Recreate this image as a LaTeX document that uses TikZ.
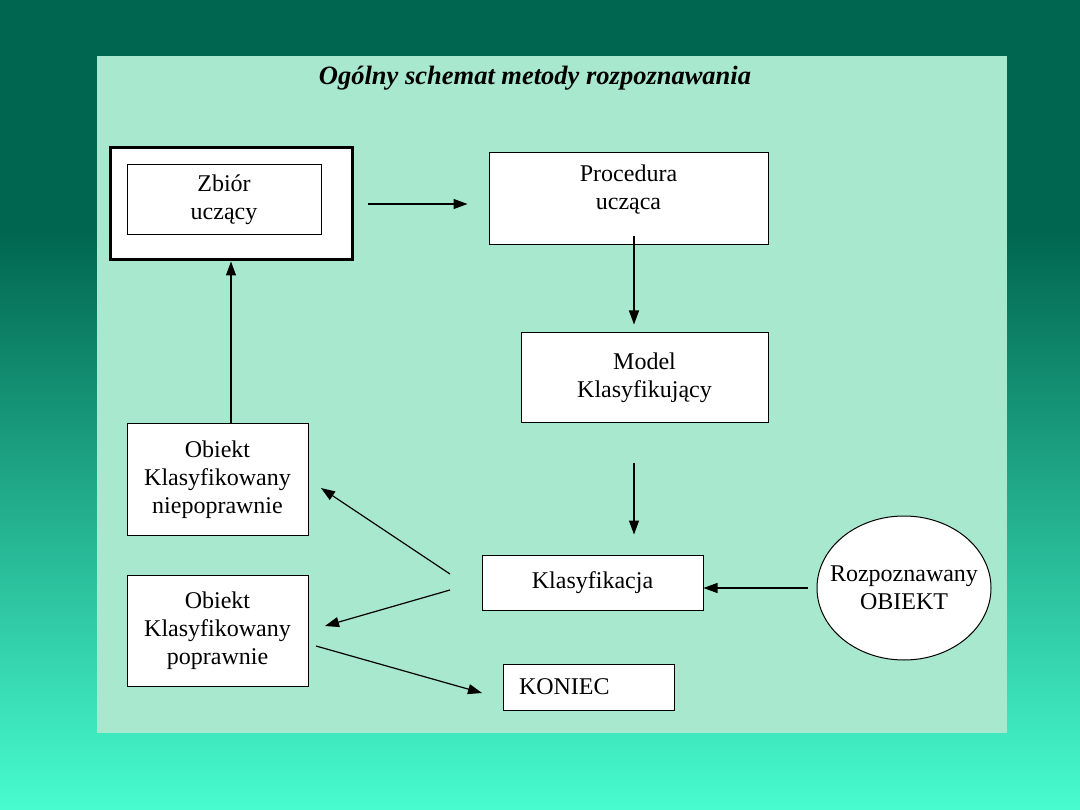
\documentclass[tikz,border=0pt]{standalone}
\usepackage{fontspec}
\setmainfont{Liberation Serif}
\usetikzlibrary{arrows.meta,positioning,calc,shapes.geometric}
\definecolor{bgtop}{HTML}{00664F}
\definecolor{bgbot}{HTML}{48FCD0}
\definecolor{panelgreen}{HTML}{A8E8CE}

\begin{document}
\begin{tikzpicture}[x=1pt,y=-1pt,>={Triangle[length=14pt,width=10pt]},
  font=\fontsize{24}{28}\selectfont,
  box/.style={draw,fill=white,line width=1pt,inner sep=0pt,align=center},
  conn/.style={->,line width=1.2pt}]
  % background and panel
  \useasboundingbox (0,0) rectangle (1080,810);
  \fill[bgtop] (0,0) rectangle (1080,230);
  \shade[top color=bgtop,bottom color=bgbot] (0,230) rectangle (1080,810);
  \fill[panelgreen] (97,56) rectangle (1007,733);
  \node[font=\fontsize{26.5}{30}\selectfont\bfseries\itshape] (title) at (535,78) {Ogólny schemat metody rozpoznawania};

  \node[box,line width=3pt,minimum width=242pt,minimum height=112pt] (zbiorframe) at (231,204) {};
  \node[box,minimum width=194pt,minimum height=70pt] (zbior) at (224,200) {Zbiór\\uczący};
  \node[box,minimum width=279pt,minimum height=92pt,text depth=24pt] (proc) at (628.5,199) {Procedura\\ucząca};
  \node[box,minimum width=247pt,minimum height=90pt] (model) at (644.5,378) {Model\\Klasyfikujący};
  \node[box,minimum width=221pt,minimum height=55pt] (klas) at (592.5,582.5) {Klasyfikacja};
  \node[draw,fill=white,line width=1pt,ellipse,inner xsep=-16pt,inner ysep=0pt,minimum width=174pt,minimum height=144pt,align=center] (obiekt) at (904,588) {Rozpoznawany\\OBIEKT};
  \node[box,minimum width=181pt,minimum height=111pt] (niep) at (217.5,479.5) {Obiekt\\Klasyfikowany\\niepoprawnie};
  \node[box,minimum width=181pt,minimum height=111pt] (pop) at (217.5,630.5) {Obiekt\\Klasyfikowany\\poprawnie};
  \node[box,minimum height=46pt,text width=139pt,inner xsep=16pt,align=left] (koniec) at (588.5,687) {KONIEC};

  \coordinate (fanA) at (450,574);
  \coordinate (fanB) at (450,590);
  \coordinate (niepTip) at (321,488);
  \coordinate (popTip) at (325,626);
  \coordinate (popOut) at (316,646);
  \coordinate (koniecTip) at (482,693);

  \draw[conn,shorten <=14pt,shorten >=21pt] (zbiorframe.east) -- (zbiorframe.east -| proc.west);
  \draw[conn,shorten <=-9pt,shorten >=8pt] ([xshift=5.5pt]proc.south) -- ([xshift=-10.5pt]model.north);
  \draw[conn,shorten <=40pt,shorten >=20pt] ([xshift=-10.5pt]model.south) -- ([xshift=41.5pt]klas.north);
  \draw[conn,shorten <=9pt] (obiekt.west) -- (obiekt.west -| klas.east);
  \draw[conn] (niep.north -| zbiorframe.south) -- (zbiorframe.south);
  \draw[conn] (fanA) -- (niepTip);
  \draw[conn] (fanB) -- (popTip);
  \draw[conn] (popOut) -- (koniecTip);
\end{tikzpicture}
\end{document}
